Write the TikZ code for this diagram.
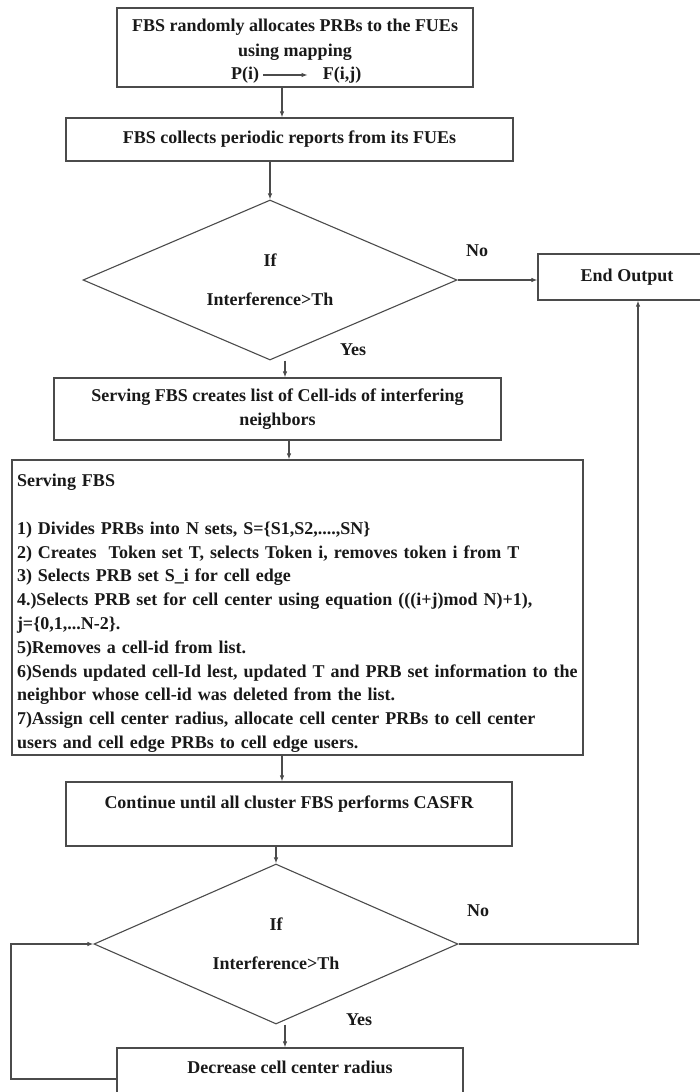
\documentclass[tikz,border=0pt]{standalone}
\usepackage{fontspec}
\setmainfont{Liberation Serif}
\usepackage{xcolor}
\usepackage{tikz}
\usetikzlibrary{shapes.geometric,arrows.meta}
\definecolor{textDark}{RGB}{25,25,25}
\definecolor{lineDark}{RGB}{75,75,75}

\tikzset{
  stepBox/.style={draw=lineDark, line width=1.2pt, rectangle, align=center, inner sep=0pt},
  testBox/.style={draw=lineDark, line width=1.1pt, diamond, aspect=2.3, align=center, inner sep=0pt},
  flowArrow/.style={draw=lineDark, line width=1.1pt, -{Latex[length=6pt,width=4.5pt]}}
}

\begin{document}
\begin{tikzpicture}[x=1pt, y=-1pt,
  every node/.style={text=textDark, font=\fontsize{18}{23.8}\selectfont\bfseries}]
\useasboundingbox (0,0) rectangle (700,1092);

% Random allocation
\node[stepBox, minimum width=356pt, minimum height=79pt] (alloc) at (295,47.5) {};
\node[align=center, font=\fontsize{18}{25}\selectfont\bfseries] (allocTxt) at (295,39.5)
    {FBS randomly allocates PRBs to the FUEs\\using mapping};
\node[inner sep=0pt] (pI) at (245,75) {P(i)};
\node[inner sep=0pt] (fIJ) at (342,75) {F(i,j)};
\draw[flowArrow] ([xshift=4pt]pI.east) -- ([xshift=-15pt]fIJ.west);

% Reports
\node[stepBox, minimum width=447pt, minimum height=43pt] (reports) at (289.5,139.5)
    {FBS collects periodic reports from its FUEs};
\draw[flowArrow] ([xshift=-13pt]alloc.south) -- ([xshift=-13pt]alloc.south |- reports.north);

% First test
\node[testBox, minimum width=374pt, minimum height=160pt] (testA) at (270,280)
    {If\\[15pt]Interference>Th};
\draw[flowArrow] (reports.south -| testA.north) -- (testA.north);
\node (noA) at (477,251) {No};
\node (yesA) at (353,350) {Yes};

% End
\node[stepBox, minimum width=178pt, minimum height=46pt] (endOut) at (627,277) {End Output};
\draw[flowArrow] (testA.east) -- (testA.east -| endOut.west);

% Neighbour list
\node[stepBox, minimum width=447pt, minimum height=62pt] (nbrList) at (277.5,409)
    {Serving FBS creates list of Cell-ids of interfering\\neighbors};
\draw[flowArrow] ([xshift=15pt]testA.south) -- ([xshift=15pt]testA.south |- nbrList.north);

% CASFR steps
\node[stepBox, align=left, text width=561pt, inner xsep=5pt, inner ysep=2pt, minimum height=295pt] (casfr) at (297.5,607.5)
    {\rule{0pt}{24pt}Serving FBS\\[23.8pt]
     1) Divides PRBs into N sets, S=\{S1,S2,....,SN\}\\
     2) Creates\ \ Token set T, selects Token i, removes token i from T\\
     3) Selects PRB set S\_i for cell edge\\
     4.)Selects PRB set for cell center using equation (((i+j)mod N)+1),\\
     j=\{0,1,...N-2\}.\\
     5)Removes a cell-id from list.\\
     6)Sends updated cell-Id lest, updated T and PRB set information to the\\
     neighbor whose cell-id was deleted from the list.\\
     7)Assign cell center radius, allocate cell center PRBs to cell center\\
     users and cell edge PRBs to cell edge users.};
\draw[flowArrow] ([xshift=11.5pt]nbrList.south) -- ([xshift=11.5pt]nbrList.south |- casfr.north);

% Continue
\node[stepBox, minimum width=446pt, minimum height=64pt] (cont) at (289,814)
    {Continue until all cluster FBS performs CASFR\\\mbox{}};
\draw[flowArrow] ([xshift=-15.5pt]casfr.south) -- ([xshift=-15.5pt]casfr.south |- cont.north);

% Second test
\node[testBox, minimum width=364pt, minimum height=160pt] (testB) at (276,944)
    {If\\[15pt]Interference>Th};
\draw[flowArrow] (cont.south -| testB.north) -- (testB.north);
\node (noB) at (478,911) {No};
\node (yesB) at (359,1020) {Yes};

% Decrease radius
\node[stepBox, minimum width=346pt, minimum height=62pt] (shrink) at (290,1079)
    {Decrease cell center radius\\\mbox{}};
\draw[flowArrow] ([xshift=9pt]testB.south) -- ([xshift=9pt]testB.south |- shrink.north);

% Loops
\coordinate (loopL) at (11,1079);
\draw[flowArrow] (shrink.west) -- (loopL) |- (testB.west);
\draw[flowArrow] (testB.east) -| ([xshift=11pt]endOut.south);

\end{tikzpicture}
\end{document}
